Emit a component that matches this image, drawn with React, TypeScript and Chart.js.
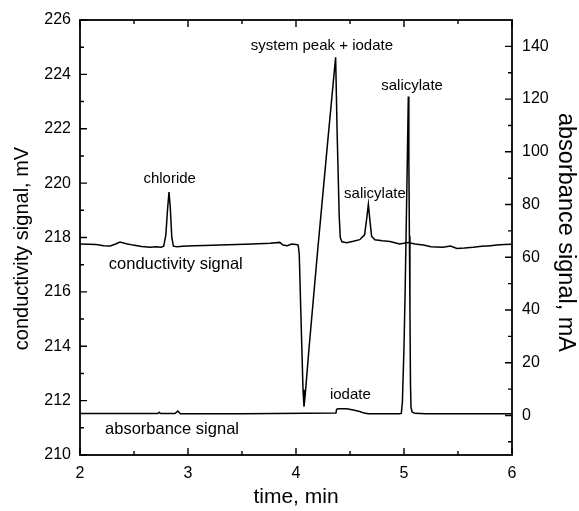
import { useEffect, useRef } from 'react';
import { Chart, registerables } from 'chart.js';

Chart.register(...registerables);

// ---- data (time in min) ----
const condTime = [
  2.0, 2.08, 2.15, 2.22, 2.28, 2.33, 2.37, 2.42, 2.49, 2.57, 2.65, 2.7, 2.75, 2.775, 2.795, 2.81, 2.824,
  2.836, 2.85, 2.865, 2.9, 2.95, 3.05, 3.15, 3.3, 3.45, 3.6, 3.76, 3.85, 3.88, 3.92, 3.96, 4.0, 4.02,
  4.03, 4.05, 4.065, 4.074, 4.085, 4.12, 4.2, 4.3, 4.367, 4.38, 4.4, 4.41, 4.425, 4.47, 4.53, 4.59,
  4.635, 4.655, 4.67, 4.685, 4.7, 4.73, 4.8, 4.87, 4.96, 5.04, 5.1, 5.18, 5.25, 5.36, 5.43, 5.49, 5.56,
  5.64, 5.72, 5.8, 5.86, 5.93, 6.0,
];
const condSignal = [
  217.76, 217.75, 217.74, 217.7, 217.69, 217.76, 217.83, 217.78, 217.72, 217.67, 217.64, 217.66, 217.64,
  217.68, 218.1, 219.0, 219.67, 219.1, 218.0, 217.68, 217.66, 217.68, 217.7, 217.71, 217.72, 217.74,
  217.76, 217.79, 217.82, 217.72, 217.7, 217.76, 217.74, 217.72, 217.4, 214.5, 212.4, 211.78, 212.2,
  213.9, 217.5, 221.8, 224.63, 222.0, 218.8, 218.0, 217.84, 217.81, 217.86, 217.92, 218.1, 218.7,
  219.22, 218.6, 218.05, 217.92, 217.88, 217.85, 217.76, 217.82, 217.76, 217.72, 217.66, 217.64,
  217.69, 217.6, 217.61, 217.64, 217.68, 217.7, 217.72, 217.74, 217.75,
];
const absTime = [
  2.0, 2.3, 2.6, 2.72, 2.734, 2.745, 2.88, 2.905, 2.93, 3.2, 3.5, 3.8, 4.1, 4.37, 4.376, 4.39, 4.47,
  4.53, 4.59, 4.63, 4.67, 4.8, 4.96, 4.975, 4.985, 5.0, 5.01, 5.02, 5.03, 5.04, 5.045, 5.05, 5.055,
  5.06, 5.065, 5.075, 5.1, 5.2, 5.5, 5.8, 6.0,
];
const absSignal = [
  0.7, 0.7, 0.7, 0.7, 1.2, 0.7, 0.7, 1.7, 0.6, 0.6, 0.6, 0.7, 0.8, 0.9, 2.3, 2.5, 2.5, 2.1, 1.5, 0.9,
  0.65, 0.6, 0.6, 0.8, 5, 26, 46, 70, 95, 121, 97, 68, 40, 12, 3, 1.3, 0.8, 0.6, 0.6, 0.6, 0.6,
];

// ---- ticks ----
const xTicks = [2, 3, 4, 5, 6];
const xMinorTicks = [2.5, 3.5, 4.5, 5.5];
const leftTicks = [210, 212, 214, 216, 218, 220, 222, 224, 226];
const leftMinorTicks = [211, 213, 215, 217, 219, 221, 223, 225];
const rightTicks = [0, 20, 40, 60, 80, 100, 120, 140];
const rightMinorTicks = [-10, 10, 30, 50, 70, 90, 110, 130];

// ---- axis titles ----
const xTitle = 'time, min';
const leftTitle = 'conductivity signal, mV';
const rightTitle = 'absorbance signal, mA';

// ---- in-plot labels (time, conductivity level) ----
const labelTexts = [
  'chloride',
  'system peak + iodate',
  'salicylate',
  'salicylate',
  'conductivity signal',
  'absorbance signal',
  'iodate',
];
const labelTimes = [2.83, 4.24, 5.075, 4.731, 2.887, 2.852, 4.503];
const labelLevels = [220.15, 225.06, 223.57, 219.62, 217.02, 210.94, 212.21];
const labelSizes = [15, 15, 15, 15, 16.5, 16.5, 15];

const FONT = "'Liberation Sans', Arial, Helvetica, sans-serif";

const framePlugin = {
  id: 'frameTicks',
  afterDatasetsDraw(chart: any) {
    const { ctx, chartArea: a, scales } = chart;
    const sx = scales.x;
    const sy = scales.y;
    const sy1 = scales.y1;
    ctx.save();
    ctx.strokeStyle = '#000';
    ctx.lineWidth = 1.8;
    ctx.strokeRect(a.left, a.top, a.right - a.left, a.bottom - a.top);
    ctx.lineWidth = 1.4;
    const major = 7;
    const minor = 4;
    ctx.beginPath();
    const xt = (vals: number[], len: number) => {
      vals.forEach((v) => {
        const p = sx.getPixelForValue(v);
        ctx.moveTo(p, a.bottom);
        ctx.lineTo(p, a.bottom - len);
        ctx.moveTo(p, a.top);
        ctx.lineTo(p, a.top + len);
      });
    };
    xt(xTicks, major);
    xt(xMinorTicks, minor);
    const lt = (vals: number[], len: number) => {
      vals.forEach((v) => {
        const p = sy.getPixelForValue(v);
        ctx.moveTo(a.left, p);
        ctx.lineTo(a.left + len, p);
      });
    };
    lt(leftTicks, major);
    lt(leftMinorTicks, minor);
    const rt = (vals: number[], len: number) => {
      vals.forEach((v) => {
        const p = sy1.getPixelForValue(v);
        ctx.moveTo(a.right, p);
        ctx.lineTo(a.right - len, p);
      });
    };
    rt(rightTicks, major);
    rt(rightMinorTicks, minor);
    ctx.stroke();

    ctx.fillStyle = '#000';
    ctx.textAlign = 'center';
    ctx.textBaseline = 'middle';
    labelTexts.forEach((t, i) => {
      ctx.font = `${labelSizes[i]}px ${FONT}`;
      ctx.fillText(t, sx.getPixelForValue(labelTimes[i]), sy.getPixelForValue(labelLevels[i]));
    });

    // axis titles
    const midY = (a.top + a.bottom) / 2;
    ctx.font = `20px ${FONT}`;
    ctx.save();
    ctx.translate(sy.left + 22, midY + 11);
    ctx.rotate(-Math.PI / 2);
    ctx.fillText(leftTitle, 0, 0);
    ctx.restore();

    ctx.font = `23.5px ${FONT}`;
    ctx.save();
    ctx.translate(sy1.right - 14, midY - 5);
    ctx.rotate(Math.PI / 2);
    ctx.fillText(rightTitle, 0, 0);
    ctx.restore();

    ctx.restore();
  },
};

export default function App() {
  const ref = useRef<HTMLCanvasElement | null>(null);
  useEffect(() => {
    if (!ref.current) return;
    const chart = new Chart(ref.current, {
      type: 'line',
      data: {
        datasets: [
          {
            label: 'conductivity signal',
            data: condTime.map((t, i) => ({ x: t, y: condSignal[i] })),
            yAxisID: 'y',
            borderColor: '#000',
            borderWidth: 1.5,
            pointRadius: 0,
            tension: 0,
          },
          {
            label: 'absorbance signal',
            data: absTime.map((t, i) => ({ x: t, y: absSignal[i] })),
            yAxisID: 'y1',
            borderColor: '#000',
            borderWidth: 1.5,
            pointRadius: 0,
            tension: 0,
          },
        ],
      },
      options: {
        animation: false,
        responsive: true,
        maintainAspectRatio: false,
        layout: { padding: { top: 20, left: 0, right: 0, bottom: 0 } },
        plugins: { legend: { display: false }, tooltip: { enabled: false } },
        scales: {
          x: {
            type: 'linear',
            position: 'bottom',
            min: 2,
            max: 6,
            grid: { display: false, drawTicks: false },
            border: { display: false },
            ticks: { padding: 9, color: '#000', font: { family: FONT, size: 16 } },
            afterBuildTicks: (s: any) => {
              s.ticks = xTicks.map((value) => ({ value }));
            },
            afterFit: (s: any) => {
              s.height = 56;
            },
            title: {
              display: true,
              text: xTitle,
              color: '#000',
              font: { family: FONT, size: 21 },
              padding: { top: 0, bottom: 1 },
            },
          },
          y: {
            type: 'linear',
            position: 'left',
            min: 210,
            max: 226,
            grid: { display: false, drawTicks: false },
            border: { display: false },
            ticks: { padding: 9, color: '#000', font: { family: FONT, size: 16 } },
            afterBuildTicks: (s: any) => {
              s.ticks = leftTicks.map((value) => ({ value }));
            },
            afterFit: (s: any) => {
              s.width = 80;
            },
            title: { display: false, text: leftTitle },
          },
          y1: {
            type: 'linear',
            position: 'right',
            min: -15,
            max: 150,
            grid: { display: false, drawTicks: false },
            border: { display: false },
            ticks: { padding: 10, color: '#000', font: { family: FONT, size: 16 } },
            afterBuildTicks: (s: any) => {
              s.ticks = rightTicks.map((value) => ({ value }));
            },
            afterFit: (s: any) => {
              s.width = 67;
            },
            title: { display: false, text: rightTitle },
          },
        },
      },
      plugins: [framePlugin],
    });
    return () => chart.destroy();
  }, []);
  return (
    <div style={{ position: 'fixed', left: 0, top: 0, width: 579, height: 511, background: '#fff' }}>
      <canvas ref={ref} />
    </div>
  );
}
